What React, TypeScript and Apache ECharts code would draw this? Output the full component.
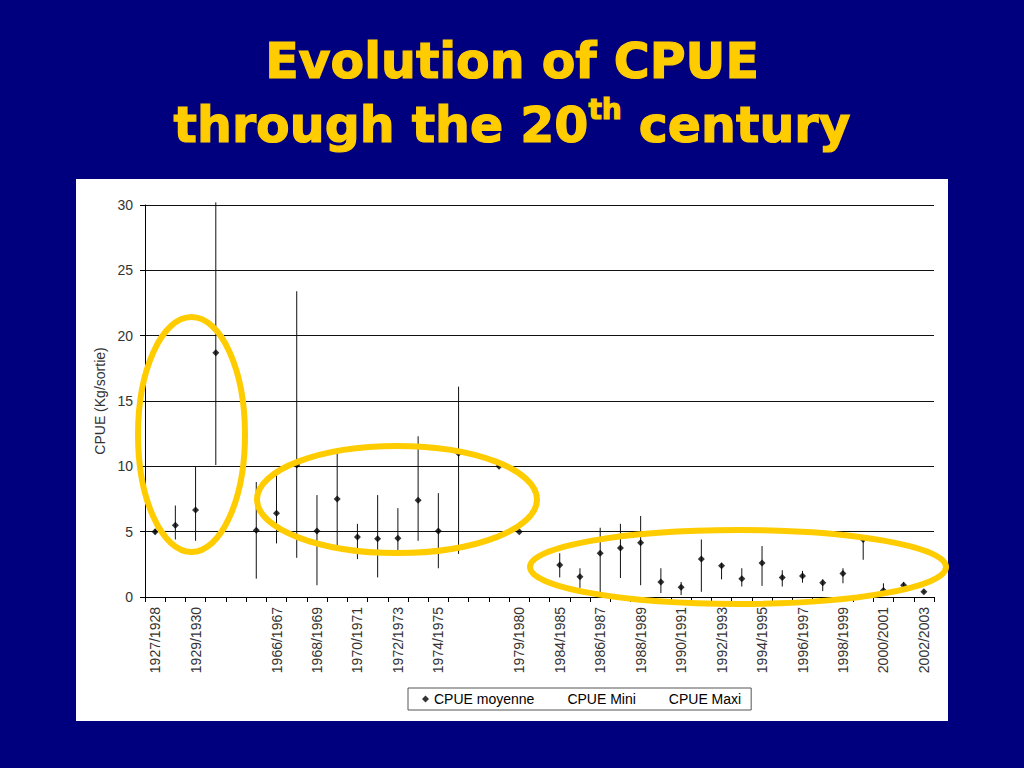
import React, { useEffect, useRef } from "react";
import * as echarts from "echarts";

const categories = [
  "1927/1928", "1928/1929", "1929/1930", "1930/1931", "", "1965/1966", "1966/1967", "1967/1968",
  "1968/1969", "1969/1970", "1970/1971", "1971/1972", "1972/1973", "1973/1974", "1974/1975",
  "1975/1976", "", "1978/1979", "1979/1980", "1983/1984", "1984/1985", "1985/1986", "1986/1987",
  "1987/1988", "1988/1989", "1989/1990", "1990/1991", "1991/1992", "1992/1993", "1993/1994",
  "1994/1995", "1995/1996", "1996/1997", "1997/1998", "1998/1999", "1999/2000", "2000/2001",
  "2001/2002", "2002/2003",
];

const cpueMoyenne = [
  5.0, 5.5, 6.65, 18.7, null, 5.1, 6.4, 10.1, 5.05, 7.5, 4.6, 4.45, 4.5, 7.4, 5.05, 11.0, null,
  10.0, 5.0, null, 2.45, 1.55, 3.35, 3.75, 4.15, 1.15, 0.75, 2.9, 2.4, 1.4, 2.6, 1.5, 1.6, 1.1,
  1.8, 4.4, 0.5, 0.9, 0.4,
];

const cpueMini = [
  4.8, 4.4, 4.3, 10.1, null, 1.4, 4.1, 3.0, 0.9, 3.8, 2.9, 1.5, 3.6, 4.3, 2.2, 3.3, null,
  10.0, 5.0, null, 1.5, 0.7, 0.0, 1.45, 0.9, 0.3, 0.15, 0.4, 1.35, 0.8, 0.85, 0.8, 1.1, 0.45,
  1.05, 2.85, 0.45, 0.7, 0.35,
];

const cpueMaxi = [
  5.2, 7.0, 10.0, 30.2, null, 8.8, 9.5, 23.4, 7.8, 11.1, 5.6, 7.8, 6.8, 12.3, 7.95, 16.1, null,
  10.0, 5.0, null, 3.35, 2.2, 5.3, 5.6, 6.2, 2.2, 1.15, 4.4, 2.6, 2.2, 3.9, 2.05, 2.0, 1.35,
  2.2, 4.6, 1.05, 1.15, 0.45,
];

const yTicks = { min: 0, max: 30, interval: 5 };

const FONT = "'Liberation Sans', Arial, sans-serif";
const TITLE_FONT = "'DejaVu Sans', Verdana, sans-serif";
const YELLOW = "#FFCC00";

export default function App() {
  const ref = useRef<HTMLDivElement>(null);

  useEffect(() => {
    document.body.style.margin = "0";
    if (!ref.current) return;
    const chart = echarts.init(ref.current, null, { renderer: "svg" });

    const rangeData = categories
      .map((_, i) => [i, cpueMini[i], cpueMaxi[i]])
      .filter((d) => d[1] != null && d[2] != null);

    const option: any = {
      animation: false,
      backgroundColor: "#00007F",
      graphic: [
        {
          type: "rect",
          z: -10,
          shape: { x: 76, y: 179, width: 872, height: 542 },
          style: { fill: "#ffffff" },
        },
        {
          type: "text",
          x: 512,
          y: 61,
          style: {
            text: "Evolution of CPUE",
            font: `bold 49px ${TITLE_FONT}`,
            fill: YELLOW,
            stroke: YELLOW,
            lineWidth: 1.2,
            align: "center",
            verticalAlign: "middle",
          },
        },
        {
          type: "text",
          x: 512,
          y: 95,
          style: {
            text: "{m|through the 20}{s|th}{m| century}",
            fill: YELLOW,
            stroke: YELLOW,
            lineWidth: 1.2,
            align: "center",
            verticalAlign: "top",
            rich: {
              m: {
                fontSize: 49,
                fontWeight: "bold",
                fontFamily: TITLE_FONT,
                color: YELLOW,
                lineHeight: 60,
              },
              s: {
                fontSize: 28,
                fontWeight: "bold",
                fontFamily: TITLE_FONT,
                color: YELLOW,
                lineHeight: 30,
                verticalAlign: "top",
              },
            },
          },
        },
        {
          type: "ellipse",
          z: 100,
          shape: { cx: 191.5, cy: 434.5, rx: 53.5, ry: 117.5 },
          style: { fill: "none", stroke: YELLOW, lineWidth: 6 },
        },
        {
          type: "ellipse",
          z: 100,
          shape: { cx: 397, cy: 499.5, rx: 140, ry: 53.5 },
          style: { fill: "none", stroke: YELLOW, lineWidth: 6 },
        },
        {
          type: "ellipse",
          z: 100,
          shape: { cx: 738, cy: 567, rx: 208, ry: 37 },
          style: { fill: "none", stroke: YELLOW, lineWidth: 6 },
        },
      ],
      grid: { left: 145, right: 90, top: 205, bottom: 171, containLabel: false },
      xAxis: {
        type: "category",
        data: categories,
        boundaryGap: true,
        axisLine: { show: true, lineStyle: { color: "#000", width: 1 } },
        axisTick: { show: true, interval: 0, length: 5, lineStyle: { color: "#000" } },
        axisLabel: {
          interval: 1,
          rotate: 90,
          margin: 10,
          fontSize: 14,
          color: "#333",
          fontFamily: FONT,
        },
        splitLine: { show: false },
      },
      yAxis: {
        type: "value",
        min: yTicks.min,
        max: yTicks.max,
        interval: yTicks.interval,
        name: "CPUE (Kg/sortie)",
        nameLocation: "middle",
        nameGap: 35,
        nameRotate: 90,
        nameTextStyle: { fontSize: 14, color: "#333", fontFamily: FONT },
        axisLine: { show: true, lineStyle: { color: "#000", width: 1 } },
        axisTick: { show: true, length: 5, lineStyle: { color: "#000" } },
        axisLabel: { margin: 12, fontSize: 14, color: "#333", fontFamily: FONT },
        splitLine: { show: true, lineStyle: { color: "#111", width: 1 } },
      },
      legend: {
        left: 408,
        top: 688,
        orient: "horizontal",
        selectedMode: false,
        itemWidth: 7,
        itemHeight: 7,
        itemGap: 21,
        padding: [4, 10, 4, 14],
        borderColor: "#555",
        borderWidth: 1,
        borderRadius: 0,
        backgroundColor: "#fff",
        textStyle: { fontSize: 14, color: "#000", fontFamily: FONT },
        data: [
          { name: "CPUE moyenne", icon: "diamond" },
          { name: "CPUE Mini", icon: "rect", itemStyle: { opacity: 0 } },
          { name: "CPUE Maxi", icon: "rect", itemStyle: { opacity: 0 } },
        ],
      },
      series: [
        {
          name: "CPUE Maxi",
          type: "custom",
          clip: false,
          z: 3,
          encode: { x: 0, y: [1, 2] },
          itemStyle: { opacity: 0 },
          data: rangeData,
          renderItem: (params: any, api: any) => {
            const i = api.value(0);
            const lo = api.coord([i, api.value(1)]);
            const hi = api.coord([i, api.value(2)]);
            return {
              type: "line",
              shape: { x1: lo[0], y1: lo[1], x2: hi[0], y2: hi[1] },
              style: { stroke: "#111", lineWidth: 1, opacity: 1 },
            };
          },
        },
        {
          name: "CPUE Mini",
          type: "scatter",
          symbolSize: 0,
          itemStyle: { opacity: 0 },
          data: cpueMini,
        },
        {
          name: "CPUE moyenne",
          type: "scatter",
          symbol: "diamond",
          symbolSize: 7,
          z: 5,
          itemStyle: { color: "#000" },
          data: cpueMoyenne,
        },
      ],
    };

    chart.setOption(option);
    return () => chart.dispose();
  }, []);

  return (
    <div
      ref={ref}
      style={{ position: "absolute", left: 0, top: 0, width: 1024, height: 768 }}
    />
  );
}
